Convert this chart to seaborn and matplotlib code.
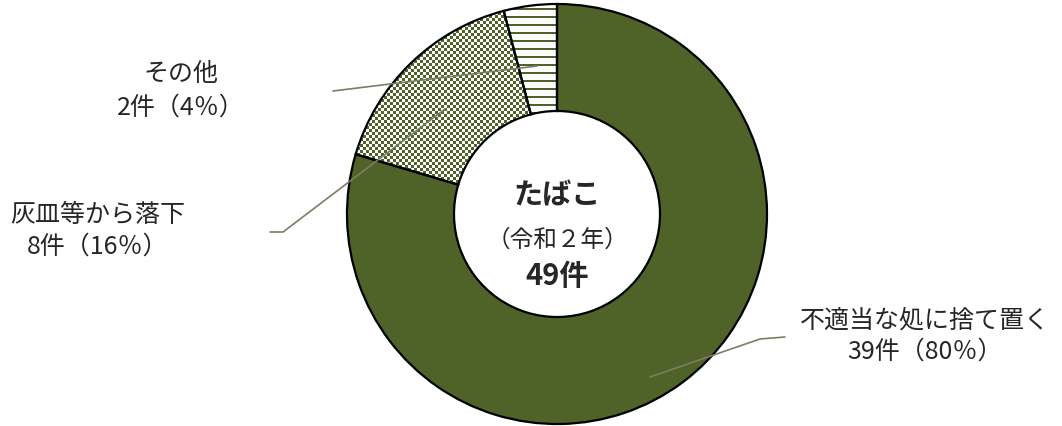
import numpy as np
import matplotlib
matplotlib.use("Agg")
import matplotlib.pyplot as plt
import seaborn as sns

# データ（令和2年 たばこ火災の原因）
causes = ["不適当な処に捨て置く", "灰皿等から落下", "その他"]
counts = [39, 8, 2]
percents = [80, 16, 4]
total = 49

sns.set_theme(style="white")
plt.rcParams["font.family"] = ["Noto Sans CJK JP", "DejaVu Sans"]

W, H = 1062, 427
fig = plt.figure(figsize=(W / 100, H / 100), dpi=100)
ax = fig.add_axes([0, 0, 1, 1])

def py(y):
    return H - y

green = "#4F6228"
cx, cy, r_out, r_in = 557, py(215), 210, 103

wedges, _ = ax.pie(
    counts, startangle=90, counterclock=False,
    center=(cx, cy), radius=r_out, frame=True,
    colors=[green, "none", "none"],
    wedgeprops=dict(width=r_out - r_in, edgecolor="black", linewidth=1.6),
)
ax.set_xlim(0, W)
ax.set_ylim(0, H)
ax.set_aspect("equal")
ax.axis("off")
for w in wedges:
    w.set_zorder(2)

cmap = matplotlib.colors.ListedColormap(["white", green])

# 市松模様（灰皿等から落下）
cell = 3
ny, nx = H // cell + 1, W // cell + 1
checker = (np.add.outer(np.arange(ny), np.arange(nx)) % 2).astype(float)
img = ax.imshow(checker, cmap=cmap, extent=(0, nx * cell, 0, ny * cell),
                interpolation="nearest", origin="lower", zorder=1.5)
img.set_clip_path(wedges[1])

# 横縞（その他）
rows = np.arange(H)
stripes = np.repeat(((rows % 8) < 2).astype(float)[:, None], 4, axis=1)
img2 = ax.imshow(stripes, cmap=cmap, extent=(0, W, 0, H), aspect="auto",
                 interpolation="nearest", origin="lower", zorder=1.5)
img2.set_clip_path(wedges[2])
ax.set_xlim(0, W)
ax.set_ylim(0, H)

# 引き出し線
lc = "#7d7d66"
ax.plot([333, 537], [py(92), py(67)], color=lc, lw=1.2, zorder=3)
ax.plot([270, 283, 445], [py(233), py(233), py(110)], color=lc, lw=1.2, zorder=3)
ax.plot([650, 760, 785], [py(378), py(340), py(338)], color=lc, lw=1.2, zorder=3)

# ラベル
fs = 18
ax.text(181, py(74), causes[2], ha="center", va="center", fontsize=fs)
ax.text(181, py(108), f"{counts[2]}件（{percents[2]}％）", ha="center", va="center", fontsize=fs)
ax.text(98, py(215), causes[1], ha="center", va="center", fontsize=fs)
ax.text(98, py(247), f"{counts[1]}件（{percents[1]}％）", ha="center", va="center", fontsize=fs)
ax.text(925, py(320), causes[0], ha="center", va="center", fontsize=fs)
ax.text(925, py(352), f"{counts[0]}件（{percents[0]}％）", ha="center", va="center", fontsize=fs)

# 中央テキスト
ax.text(cx, py(195), "たばこ", ha="center", va="center", fontsize=21, fontweight="bold")
ax.text(cx, py(240), "（令和２年）", ha="center", va="center", fontsize=17)
ax.text(cx, py(276), f"{total}件", ha="center", va="center", fontsize=21, fontweight="bold")

fig.savefig("out.png", dpi=100, facecolor="white")
